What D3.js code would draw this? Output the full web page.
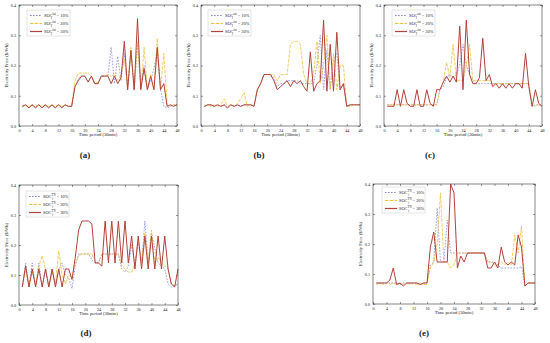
<!DOCTYPE html>
<html>
<head>
<meta charset="utf-8">
<script src="https://cdn.jsdelivr.net/npm/d3@7"></script>
<style>
  body { margin: 0; background: #fff; }
  svg { display: block; }
  text { font-family: "Liberation Serif", "DejaVu Serif", serif; fill: #222; }
</style>
</head>
<body>
<svg id="chart" width="550" height="343"></svg>
<script>
// time periods (30 min), 1..48
const periods = d3.range(1, 49);
const xTicks = [0, 4, 8, 12, 16, 20, 24, 28, 32, 36, 40, 44, 48];
const yTicks = [0, 0.1, 0.2, 0.3, 0.4];
const socLabels = ['10%', '20%', '30%'];

// (a)
const aSoc10 = [0.065,0.07,0.06,0.07,0.06,0.07,0.06,0.07,0.06,0.07,0.06,0.07,0.06,0.07,0.065,0.065,
  0.13,0.155,0.165,0.165,0.15,0.165,0.14,0.14,0.165,0.165,0.165,0.26,0.14,0.23,0.15,0.24,
  0.12,0.25,0.12,0.27,0.13,0.2,0.12,0.15,0.19,0.25,0.12,0.065,0.06,0.065,0.07,0.07];
const aSoc20 = [0.06,0.07,0.065,0.07,0.065,0.07,0.065,0.07,0.065,0.07,0.065,0.07,0.065,0.07,0.065,0.065,
  0.15,0.175,0.175,0.175,0.175,0.165,0.14,0.145,0.165,0.165,0.17,0.165,0.17,0.15,0.17,0.22,
  0.13,0.26,0.12,0.28,0.12,0.26,0.12,0.17,0.12,0.29,0.12,0.24,0.07,0.065,0.07,0.07];
const aSoc30 = [0.065,0.07,0.06,0.07,0.06,0.07,0.06,0.07,0.06,0.07,0.06,0.07,0.06,0.07,0.065,0.065,
  0.13,0.15,0.165,0.165,0.145,0.165,0.14,0.14,0.165,0.165,0.165,0.14,0.165,0.14,0.16,0.28,
  0.12,0.25,0.12,0.355,0.12,0.19,0.12,0.165,0.12,0.26,0.12,0.14,0.065,0.07,0.065,0.07];

// (b)
const bSoc10 = [0.065,0.07,0.07,0.065,0.07,0.065,0.07,0.06,0.07,0.065,0.07,0.065,0.07,0.07,0.07,0.065,
  0.12,0.14,0.17,0.17,0.17,0.16,0.13,0.14,0.14,0.15,0.15,0.15,0.15,0.14,0.14,0.14,
  0.14,0.14,0.2,0.3,0.12,0.25,0.12,0.22,0.24,0.12,0.14,0.065,0.07,0.07,0.07,0.07];
const bSoc20 = [0.065,0.07,0.065,0.07,0.065,0.07,0.09,0.065,0.07,0.065,0.075,0.09,0.11,0.065,0.07,0.065,
  0.12,0.14,0.17,0.17,0.17,0.17,0.15,0.17,0.17,0.17,0.27,0.28,0.28,0.27,0.17,0.14,
  0.14,0.17,0.28,0.14,0.2,0.3,0.12,0.24,0.12,0.2,0.2,0.065,0.065,0.07,0.07,0.07];
const bSoc30 = [0.065,0.07,0.07,0.065,0.07,0.065,0.07,0.06,0.07,0.065,0.07,0.065,0.07,0.07,0.07,0.065,
  0.12,0.14,0.17,0.17,0.17,0.15,0.12,0.13,0.14,0.15,0.13,0.15,0.14,0.15,0.13,0.115,
  0.245,0.115,0.14,0.15,0.35,0.115,0.27,0.115,0.31,0.12,0.14,0.065,0.07,0.07,0.07,0.07];

// (c)
const cSoc10 = [0.07,0.07,0.07,0.07,0.07,0.07,0.07,0.07,0.07,0.07,0.07,0.07,0.07,0.07,0.07,0.07,
  0.12,0.13,0.16,0.17,0.16,0.17,0.2,0.27,0.2,0.17,0.15,0.14,0.14,0.14,0.14,0.14,
  0.14,0.14,0.14,0.14,0.14,0.14,0.14,0.14,0.14,0.14,0.14,0.14,0.065,0.07,0.07,0.07];
const cSoc20 = [0.07,0.07,0.07,0.07,0.07,0.07,0.07,0.07,0.07,0.07,0.07,0.07,0.07,0.07,0.07,0.07,
  0.12,0.145,0.21,0.16,0.27,0.15,0.15,0.15,0.2,0.27,0.15,0.15,0.15,0.15,0.15,0.15,
  0.14,0.14,0.14,0.14,0.14,0.14,0.14,0.14,0.14,0.14,0.14,0.14,0.07,0.065,0.07,0.065];
const cSoc30 = [0.065,0.065,0.065,0.12,0.065,0.12,0.075,0.065,0.065,0.12,0.065,0.065,0.12,0.075,0.065,0.12,
  0.12,0.145,0.165,0.145,0.165,0.145,0.33,0.12,0.35,0.17,0.14,0.14,0.16,0.29,0.15,0.17,
  0.13,0.14,0.125,0.14,0.125,0.14,0.125,0.14,0.14,0.125,0.24,0.13,0.065,0.12,0.075,0.065];

// (d)
const dSoc10 = [0.06,0.14,0.06,0.14,0.06,0.14,0.06,0.12,0.06,0.12,0.06,0.12,0.14,0.1,0.09,0.055,
  0.13,0.17,0.17,0.17,0.17,0.15,0.14,0.14,0.17,0.17,0.17,0.17,0.17,0.17,0.12,0.11,
  0.13,0.2,0.13,0.21,0.14,0.28,0.14,0.24,0.19,0.14,0.13,0.12,0.07,0.06,0.065,0.07];
const dSoc20 = [0.06,0.12,0.06,0.11,0.07,0.13,0.165,0.12,0.06,0.11,0.07,0.18,0.1,0.07,0.1,0.09,
  0.14,0.165,0.17,0.17,0.17,0.17,0.145,0.14,0.17,0.17,0.17,0.17,0.17,0.17,0.13,0.12,
  0.11,0.11,0.14,0.22,0.14,0.24,0.14,0.25,0.14,0.16,0.14,0.13,0.12,0.07,0.065,0.07];
const dSoc30 = [0.06,0.13,0.06,0.12,0.06,0.12,0.06,0.12,0.06,0.12,0.06,0.12,0.06,0.12,0.12,0.085,
  0.16,0.25,0.28,0.28,0.28,0.27,0.14,0.14,0.13,0.28,0.14,0.28,0.14,0.28,0.14,0.28,
  0.14,0.23,0.12,0.23,0.12,0.23,0.12,0.23,0.12,0.23,0.12,0.23,0.12,0.07,0.06,0.12];

// (e)
const eSoc10 = [0.07,0.07,0.07,0.07,0.07,0.07,0.07,0.065,0.07,0.07,0.07,0.07,0.07,0.065,0.07,0.07,
  0.13,0.14,0.32,0.14,0.14,0.28,0.17,0.17,0.17,0.17,0.17,0.17,0.17,0.17,0.17,0.17,
  0.17,0.14,0.14,0.14,0.13,0.12,0.12,0.12,0.12,0.12,0.12,0.125,0.06,0.07,0.07,0.07];
const eSoc20 = [0.065,0.07,0.065,0.07,0.065,0.07,0.065,0.07,0.065,0.07,0.065,0.07,0.065,0.07,0.065,0.065,
  0.12,0.14,0.2,0.37,0.14,0.14,0.12,0.13,0.17,0.17,0.17,0.17,0.17,0.17,0.17,0.17,
  0.17,0.14,0.14,0.13,0.13,0.14,0.13,0.14,0.13,0.23,0.17,0.26,0.06,0.07,0.07,0.07];
const eSoc30 = [0.07,0.07,0.07,0.07,0.08,0.12,0.065,0.07,0.06,0.07,0.07,0.07,0.07,0.065,0.07,0.07,
  0.19,0.24,0.14,0.14,0.14,0.14,0.4,0.37,0.12,0.16,0.14,0.17,0.17,0.17,0.17,0.17,
  0.17,0.12,0.12,0.14,0.12,0.19,0.14,0.13,0.14,0.13,0.23,0.19,0.06,0.07,0.07,0.07];

const styles = [
  { color: '#8585e0', width: 0.8, dash: '1.6,1.4' },
  { color: '#efc23c', width: 0.8, dash: '3.5,1.2' },
  { color: '#b3423a', width: 1.0, dash: null },
];

const panels = [
  { label: '(a)', sup: 'ini', series: [aSoc10, aSoc20, aSoc30], box: [19, 177, 5, 126], leg: [27, 10], cap: [85, 158] },
  { label: '(b)', sup: 'ini', series: [bSoc10, bSoc20, bSoc30], box: [201, 360, 5, 126], leg: [208, 10], cap: [259, 158] },
  { label: '(c)', sup: 'ini', series: [cSoc10, cSoc20, cSoc30], box: [384, 542, 5, 126], leg: [392, 10], cap: [430, 158] },
  { label: '(d)', sup: 'TN', series: [dSoc10, dSoc20, dSoc30], box: [19, 178, 185, 305], leg: [26, 191], cap: [86, 336] },
  { label: '(e)', sup: 'TN', series: [eSoc10, eSoc20, eSoc30], box: [373, 535, 184, 304], leg: [382, 187], cap: [424, 336] },
];

const svg = d3.select('#chart');

const drawPanel = (p) => {
  const [x0, x1, y0, y1] = p.box;
  const g = svg.append('g');
  const x = d3.scaleLinear().domain([0, 48]).range([x0, x1]);
  const y = d3.scaleLinear().domain([0, 0.4]).range([y1, y0]);

  // axes with inward ticks, on all four sides
  const tickStyle = (a) => {
    a.select('.domain').remove();
    a.selectAll('line').attr('stroke', '#333').attr('stroke-width', 0.5);
    a.selectAll('text').attr('font-size', 4.2).attr('fill', '#333');
  };
  g.append('g').attr('transform', `translate(0,${y1})`)
    .call(d3.axisBottom(x).tickValues(xTicks).tickSize(-2).tickPadding(3).tickFormat(d3.format('d')))
    .call(tickStyle);
  g.append('g').attr('transform', `translate(0,${y0})`)
    .call(d3.axisTop(x).tickValues(xTicks).tickSize(-2).tickFormat(''))
    .call(tickStyle);
  g.append('g').attr('transform', `translate(${x0},0)`)
    .call(d3.axisLeft(y).tickValues(yTicks).tickSize(-2).tickPadding(3).tickFormat(d3.format('.1f')))
    .call(tickStyle);
  g.append('g').attr('transform', `translate(${x1},0)`)
    .call(d3.axisRight(y).tickValues(yTicks).tickSize(-2).tickFormat(''))
    .call(tickStyle);

  const line = d3.line().x((d, i) => x(periods[i])).y(d => y(d));
  p.series.forEach((s, i) => {
    g.append('path').datum(s)
      .attr('fill', 'none')
      .attr('stroke', styles[i].color)
      .attr('stroke-width', styles[i].width)
      .attr('stroke-dasharray', styles[i].dash)
      .attr('stroke-linejoin', 'round')
      .attr('d', line);
  });

  g.append('rect')
    .attr('x', x0).attr('y', y0).attr('width', x1 - x0).attr('height', y1 - y0)
    .attr('fill', 'none').attr('stroke', '#333').attr('stroke-width', 0.6);

  // axis titles
  g.append('text')
    .attr('x', (x0 + x1) / 2).attr('y', y1 + 10)
    .attr('text-anchor', 'middle').attr('font-size', 4.6)
    .text('Time period (30min)');
  g.append('text')
    .attr('transform', `translate(${x0 - 11},${(y0 + y1) / 2}) rotate(-90)`)
    .attr('text-anchor', 'middle').attr('font-size', 4.6)
    .text('Electricity Price ($/Wh)');

  // legend
  const [lx, ly] = p.leg;
  const lg = g.append('g');
  lg.append('rect')
    .attr('x', lx).attr('y', ly).attr('width', 43).attr('height', 26)
    .attr('fill', '#fff').attr('stroke', '#ccc').attr('stroke-width', 0.5);
  socLabels.forEach((lab, i) => {
    const yy = ly + 5.5 + i * 8;
    lg.append('line')
      .attr('x1', lx + 3).attr('x2', lx + 15).attr('y1', yy).attr('y2', yy)
      .attr('stroke', styles[i].color).attr('stroke-width', styles[i].width + 0.2)
      .attr('stroke-dasharray', styles[i].dash);
    const t = lg.append('text').attr('x', lx + 17).attr('y', yy + 1.5).attr('font-size', 4.4);
    t.append('tspan').text('SOC');
    t.append('tspan').attr('font-size', 3).attr('dy', -1.8).text(p.sup);
    t.append('tspan').attr('font-size', 3).attr('dx', -(p.sup.length * 1.5 + 0.3)).attr('dy', 3.4).text('i');
    t.append('tspan').attr('dy', -1.6).attr('dx', p.sup.length * 1.5 - 0.6).text(` = ${lab}`);
  });

  // caption
  svg.append('text')
    .attr('x', p.cap[0]).attr('y', p.cap[1])
    .attr('text-anchor', 'middle').attr('font-size', 9).attr('font-weight', 'bold')
    .attr('fill', '#111')
    .text(p.label);
};

panels.forEach(drawPanel);
</script>
</body>
</html>
